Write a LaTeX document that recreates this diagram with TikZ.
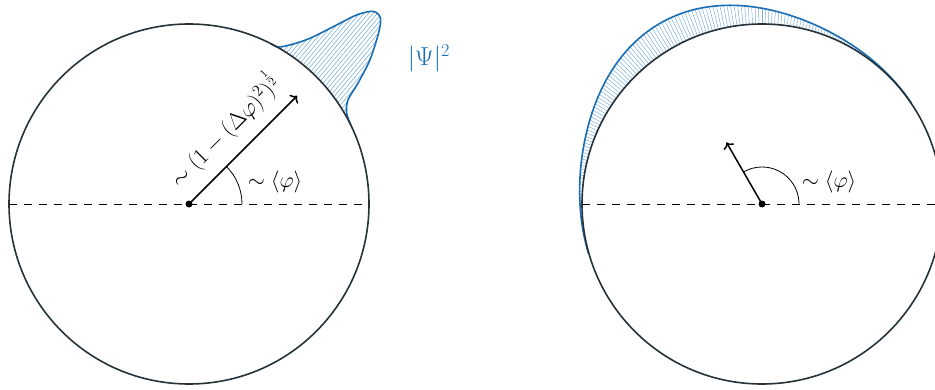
\RequirePackage{fix-cm}
\documentclass[tikz,border=0pt]{standalone}
\usetikzlibrary{arrows.meta,patterns.meta,calc}
\definecolor{psiblue}{HTML}{1A6DB4}
\definecolor{hatchblue}{HTML}{7FB2DC}
\definecolor{ringcol}{HTML}{263238}
\tikzset{
  ring/.style={draw=ringcol, line width=1.6pt},
  axisline/.style={line width=0.9pt, dash pattern=on 8pt off 7pt},
  vecarrow/.style={line width=1.5pt, -{To[length=5.5pt,width=12pt]}},
  anglearc/.style={line width=0.8pt},
  psicurve/.style={draw=psiblue, line width=1.6pt},
  hatchline/.style={draw=hatchblue, line width=0.5pt},
  dotnode/.style={circle, fill=black, inner sep=0pt, minimum size=7pt},
  lbl/.style={font=\fontsize{22}{26}\selectfont, inner sep=0pt},
}
\begin{document}
\begin{tikzpicture}[x=1pt,y=1pt]
\useasboundingbox (0,0) rectangle (935,389);
% ---------- left ----------
\coordinate (cL) at (189,185);
\begin{scope}[shift={(cL)}]
  \fill[pattern={Lines[angle=50,distance=3.4pt,line width=0.6pt]}, pattern color=hatchblue]
    plot[smooth] coordinates {(26:180) (30:182) (33.2:190) (35.6:208) (38.5:231) (42:255) (44.2:267) (46.3:266.5) (48.4:253) (50.5:232) (53.9:205) (57.6:188.4) (60.5:180.5) (63:180)}
    arc[start angle=63, end angle=26, radius=180] -- cycle;
  \draw[psicurve]
    plot[smooth] coordinates {(26:180) (30:182) (33.2:190) (35.6:208) (38.5:231) (42:255) (44.2:267) (46.3:266.5) (48.4:253) (50.5:232) (53.9:205) (57.6:188.4) (60.5:180.5) (63:180)};
\end{scope}
\node[ring, circle, minimum size=360pt, inner sep=0pt] (ringL) at (cL) {};
\coordinate (dLw) at (9,185);
\coordinate (dLe) at (369,185);
\draw[axisline] (dLw) -- (dLe);
\coordinate (tipL) at ($(cL)+(45:153)$);
\draw[vecarrow] (cL) -- (tipL);
\draw[anglearc] ($(cL)+(53,0)$) arc[start angle=0, end angle=45, radius=53];
\node[dotnode] (oL) at (cL) {};
\node[lbl, rotate=45, font=\fontsize{23}{27}\selectfont] (widthlbl) at (224,259) {$\sim\Bigl(1-(\Delta\varphi)^2\Bigr)^{\frac12}$};
\node[lbl] (meanL) at (275,206.5) {$\sim\langle\varphi\rangle$};
\node[lbl, text=psiblue, font=\fontsize{26}{30}\selectfont] (psiL) at (429,330.5) {$|\Psi|^2$};
% ---------- right ----------
\coordinate (cR) at (762,185);
\begin{scope}[shift={(cR)}]
  \foreach \a in {36,37,...,194} {
    \draw[hatchline] (\a:180) -- (\a:{180+27.5*exp(-((\a-118.5)^2)/1458)});
  }
  \draw[psicurve] plot[domain=34:196, samples=120, smooth] (\x:{180+27.5*exp(-((\x-118.5)^2)/1458)});
\end{scope}
\node[ring, circle, minimum size=360pt, inner sep=0pt] (ringR) at (cR) {};
\coordinate (dRw) at (582,185);
\coordinate (dRe) at (942,185);
\draw[axisline] (dRw) -- (dRe);
\coordinate (tipR) at ($(cR)+(120:71)$);
\draw[vecarrow] (cR) -- (tipR);
\draw[anglearc] ($(cR)+(37,0)$) arc[start angle=0, end angle=120, radius=37];
\node[dotnode] (oR) at (cR) {};
\node[lbl] (meanR) at (829,206.5) {$\sim\langle\varphi\rangle$};
\end{tikzpicture}
\end{document}
